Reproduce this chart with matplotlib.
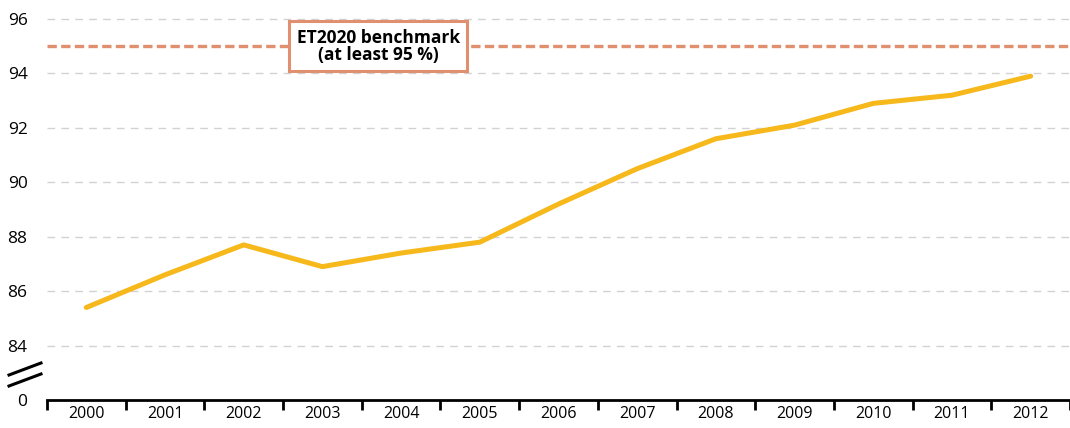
import matplotlib
matplotlib.use("Agg")
import matplotlib.pyplot as plt
from matplotlib.lines import Line2D

plt.rcParams['font.family'] = ['Open Sans', 'DejaVu Sans']

years = ['2000', '2001', '2002', '2003', '2004', '2005', '2006',
         '2007', '2008', '2009', '2010', '2011', '2012']
participation = [85.4, 86.6, 87.7, 86.9, 87.4, 87.8, 89.2,
                 90.5, 91.6, 92.1, 92.9, 93.2, 93.9]
benchmark = 95
ytick_values = [84, 86, 88, 90, 92, 94, 96]
axis_floor = 82  # shown as "0" below the axis break

fig = plt.figure(figsize=(10.7, 4.28), dpi=100)
ax = fig.add_axes([47 / 1070, 28 / 428, 1 - 47 / 1070, 1 - 28 / 428])

x = list(range(len(years)))
ax.set_xlim(-0.5, len(years) - 0.5)
ax.set_ylim(axis_floor, 96 + 19 / 27.2)

# grid lines
for v in ytick_values:
    ax.axhline(v, color='#d2d2d2', lw=1.0, dashes=(5.5, 4.5), zorder=1)

# benchmark
ax.axhline(benchmark, color='#e0906f', lw=2.4, dashes=(2.8, 1.3), zorder=2)
ax.text(3.71, benchmark, 'ET2020 benchmark\n(at least 95 %)', ha='center', va='center',
        fontsize=12.5, fontweight='bold', linespacing=0.92, zorder=4,
        bbox=dict(boxstyle='square,pad=0.42', fc='white', ec='#e0906f', lw=2.2))

# series
ax.plot(x, participation, color='#f6b81a', lw=3.6, solid_capstyle='round',
        solid_joinstyle='round', zorder=3)

# axes styling
for s in ['left', 'right', 'top']:
    ax.spines[s].set_visible(False)
ax.spines['bottom'].set_color('black')
ax.spines['bottom'].set_linewidth(2)

ax.set_yticks([axis_floor] + ytick_values)
ax.set_yticklabels(['0'] + [str(v) for v in ytick_values])
ax.tick_params(axis='y', length=0, pad=14, labelsize=12.5)

ax.set_xticks([i - 0.5 for i in range(len(years) + 1)])
ax.set_xticklabels([])
ax.set_xticks(x, minor=True)
ax.set_xticklabels(years, minor=True)
ax.tick_params(axis='x', which='major', length=7, width=2, color='black', direction='out')
ax.tick_params(axis='x', which='minor', length=0, pad=4, labelsize=11.5)

# axis break marks
for dy in (0, 11):
    fig.add_artist(Line2D([9 / 1070, 41 / 1070],
                          [1 - (375 + dy) / 428, 1 - (363 + dy) / 428],
                          color='black', lw=2.2))

fig.savefig('out.png', dpi=100)
